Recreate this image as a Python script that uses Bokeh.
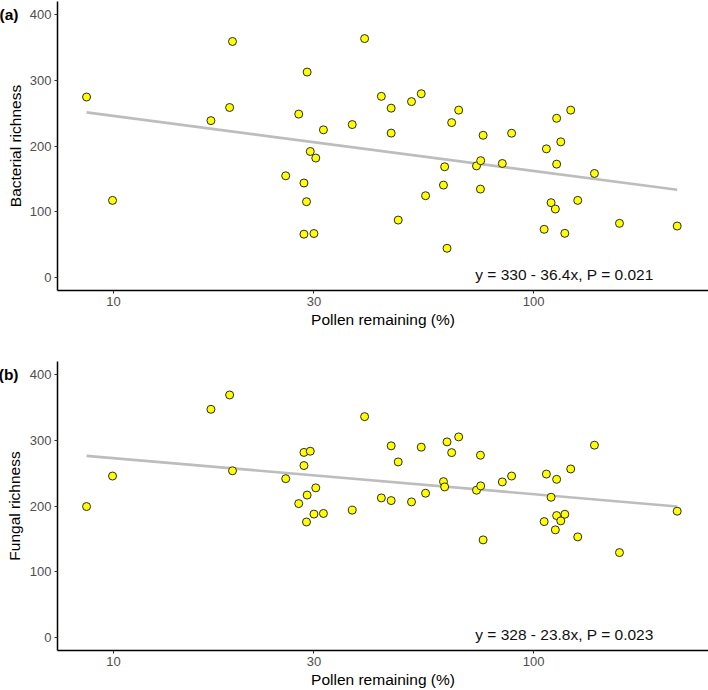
import numpy as np
from bokeh.plotting import figure
from bokeh.models import Range1d, FixedTicker, Label, PrintfTickFormatter, LinearAxis
from bokeh.layouts import column
from bokeh.embed import file_html
from bokeh.resources import INLINE

# ---- data ----
pollen = [8.63, 9.95, 17.06, 18.9, 19.2, 25.7, 27.6, 28.4, 28.4, 28.8, 28.9, 29.4,
          30.0, 30.3, 31.6, 37.0, 39.6, 43.4, 45.8, 45.8, 47.6, 51.2, 54.0, 55.3,
          61.0, 61.4, 62.2, 63.8, 66.3, 73.1, 74.7, 74.8, 75.8, 84.2, 88.6, 105.9,
          107.2, 110.0, 112.6, 113.4, 113.4, 116.0, 118.6, 122.5, 127.3, 139.5, 160.0, 219.5]
bacterial = [275, 117.5, 239, 259, 359.6, 155, 249, 144, 66, 115.5, 313, 192,
             67, 182, 225, 233, 364, 276, 258, 220, 87.5, 268, 280, 124.6,
             140.8, 168.7, 44.5, 236, 255, 170, 134.7, 178, 216.7, 173.7, 219.8, 73.4,
             196, 114, 104.3, 242.6, 172.7, 206.7, 67.3, 255, 117.5, 158.5, 82.5, 78.4]
fungal = [199.5, 246, 347.7, 369.5, 254, 242, 204, 282, 262, 176, 217, 283.8,
          188, 228, 189, 194, 336.5, 212.7, 292, 208.6, 267.5, 206.6, 290, 219.8,
          237.5, 229.4, 298, 281.7, 305.6, 224.4, 277.7, 231, 148.7, 237, 246, 176.6,
          249, 213.7, 164, 241, 185.8, 177.7, 187.8, 256.8, 153.3, 293, 129.4, 192.4]

x_ticks = [10, 30, 100]
y_ticks = [0, 100, 200, 300, 400]
panel_tags = ["(a)", "(b)"]
tag_level = 400
y_titles = ["Bacterial richness", "Fungal richness"]
x_title = "Pollen remaining (%)"
intercepts = [330, 328]
slopes = [-36.4, -23.8]
p_values = ["0.021", "0.023"]

FONT = "Liberation Sans"


def style_axis(ax):
    ax.axis_line_color = "black"
    ax.axis_line_width = 1.5
    ax.major_tick_line_color = "#333333"
    ax.major_tick_line_width = 1
    ax.major_tick_out = 3
    ax.major_tick_in = 0
    ax.minor_tick_line_color = None
    ax.major_label_text_font = FONT
    ax.major_label_text_font_size = "13px"
    ax.major_label_text_color = "#4d4d4d"
    ax.major_label_standoff = 3
    ax.axis_label_text_font = FONT
    ax.axis_label_text_font_size = "15.5px"
    ax.axis_label_text_font_style = "normal"
    ax.axis_label_text_color = "black"
    ax.axis_label_standoff = 2


def make_panel(yvals, tag, ytitle, a, b, pval, border_top, border_bottom):
    p = figure(x_axis_type="log",
               frame_width=651, frame_height=289,
               x_range=Range1d(7.36, 260.6), y_range=Range1d(-19.8, 420.5),
               output_backend="svg", toolbar_location=None,
               min_border_left=57, min_border_right=0,
               min_border_top=border_top, min_border_bottom=border_bottom)
    p.outline_line_color = None
    p.background_fill_color = "white"
    p.border_fill_color = "white"
    p.xgrid.visible = False
    p.ygrid.visible = False

    p.xaxis.ticker = FixedTicker(ticks=x_ticks)
    p.xaxis.formatter = PrintfTickFormatter(format="%d")
    p.yaxis.ticker = FixedTicker(ticks=y_ticks)
    p.xaxis.axis_label = x_title
    style_axis(p.xaxis[0])
    style_axis(p.yaxis[0])

    # outer label-only axis: carries the panel tag and the y title
    tag_axis = LinearAxis(ticker=FixedTicker(ticks=[tag_level]),
                          major_label_overrides={tag_level: tag})
    style_axis(tag_axis)
    tag_axis.axis_line_color = None
    tag_axis.major_tick_line_color = None
    tag_axis.major_tick_out = 0
    tag_axis.major_label_standoff = 8
    tag_axis.major_label_text_font_size = "15.5px"
    tag_axis.major_label_text_font_style = "bold"
    tag_axis.major_label_text_color = "black"
    tag_axis.axis_label = ytitle
    tag_axis.axis_label_standoff = -27
    p.add_layout(tag_axis, "left")

    # regression line from the printed coefficients
    xs = np.array([min(pollen), max(pollen)])
    ys = a + b * np.log(xs)
    p.line(xs, ys, line_color="#bdbdbd", line_width=2.6)

    p.scatter(pollen, yvals, size=8, fill_color="#ffff00", line_color="#2b2b2b", line_width=1)

    eq = f"y = {a} - {abs(b)}x, P = {pval}"
    p.add_layout(Label(x=72.6, y=5, text=eq, text_font=FONT, text_font_size="15.5px",
                       text_color="#111111", text_baseline="middle", text_align="left"))
    return p


p1 = make_panel(bacterial, panel_tags[0], y_titles[0], intercepts[0], slopes[0], p_values[0], 1, 55)
p2 = make_panel(fungal, panel_tags[1], y_titles[1], intercepts[1], slopes[1], p_values[1], 16, 0)

layout = column(p1, p2, spacing=0)

open("out.html", "w").write(file_html(layout, INLINE))
